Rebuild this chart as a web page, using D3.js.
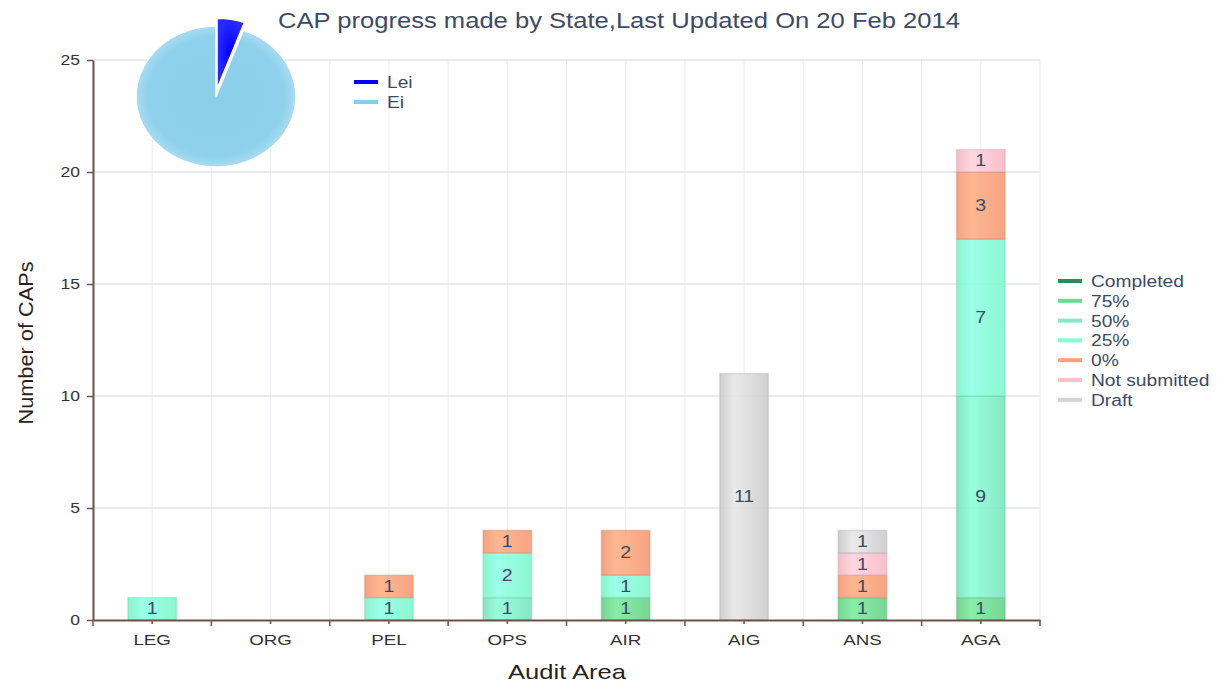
<!DOCTYPE html>
<html>
<head>
<meta charset="utf-8">
<script src="https://cdn.jsdelivr.net/npm/d3@7"></script>
<style>
  body { margin: 0; background: #fff; }
  svg { font-family: "Liberation Sans", Arial, sans-serif; }
</style>
</head>
<body>
<script>
// data
const areas = ["LEG", "ORG", "PEL", "OPS", "AIR", "AIG", "ANS", "AGA"];
const statuses = ["Completed", "75%", "50%", "25%", "0%", "Not submitted", "Draft"];
const completed    = [0, 0, 0, 0, 0, 0, 0, 0];
const pct75        = [0, 0, 0, 0, 1, 0, 1, 1];
const pct50        = [0, 0, 0, 1, 0, 0, 0, 9];
const pct25        = [1, 0, 1, 2, 1, 0, 0, 7];
const pct0         = [0, 0, 1, 1, 2, 0, 1, 3];
const notSubmitted = [0, 0, 0, 0, 0, 0, 1, 1];
const draft        = [0, 0, 0, 0, 0, 11, 1, 0];
const yTicks = [0, 5, 10, 15, 20, 25];

const pieLabels = ["Lei", "Ei"];
const pieValues = [1, 17];

const statusColors = ["#2e8b57", "#6fd98f", "#80ebc6", "#85ffd2", "#ffa07a", "#ffc0cb", "#d3d3d3"];
const pieColors = ["#0000ff", "#87ceeb"];

const width = 1217, height = 685;
const svg = d3.select("body").append("svg")
  .attr("width", width)
  .attr("height", height);

const mLeft = 93, mRight = 1040, mTop = 60, mBottom = 620;

// text in the picture is a bit wider than the plain font
function stretch(sel, k) {
  sel.each(function () {
    const len = this.getComputedTextLength();
    d3.select(this).attr("textLength", len * k).attr("lengthAdjust", "spacingAndGlyphs");
  });
}

const x = d3.scaleBand().domain(areas).range([mLeft, mRight]).padding(0);
const y = d3.scaleLinear().domain([0, 25]).range([mBottom, mTop]);

const rows = areas.map((a, i) => ({
  area: a,
  "Completed": completed[i],
  "75%": pct75[i],
  "50%": pct50[i],
  "25%": pct25[i],
  "0%": pct0[i],
  "Not submitted": notSubmitted[i],
  "Draft": draft[i]
}));
const stacked = d3.stack().keys(statuses)(rows);

// gradients
const defs = svg.append("defs");
statusColors.forEach((c, i) => {
  const g = defs.append("linearGradient").attr("id", "bg" + i)
    .attr("x1", "0%").attr("x2", "100%").attr("y1", "0%").attr("y2", "0%");
  g.append("stop").attr("offset", "0%").attr("stop-color", d3.color(c).darker(0.15));
  g.append("stop").attr("offset", "30%").attr("stop-color", d3.color(c).brighter(0.25));
  g.append("stop").attr("offset", "100%").attr("stop-color", d3.color(c).darker(0.1));
});
const pg = defs.append("radialGradient").attr("id", "pieEi")
  .attr("cx", "50%").attr("cy", "50%").attr("r", "50%");
pg.append("stop").attr("offset", "0%").attr("stop-color", "#8ccfe9");
pg.append("stop").attr("offset", "85%").attr("stop-color", "#8fd1ec");
pg.append("stop").attr("offset", "100%").attr("stop-color", "#a8dcf2");
const pb = defs.append("radialGradient").attr("id", "pieLei")
  .attr("cx", "50%").attr("cy", "50%").attr("r", "50%");
pb.append("stop").attr("offset", "0%").attr("stop-color", "#0000ff");
pb.append("stop").attr("offset", "100%").attr("stop-color", "#2a2aff");

// grid
const step = x.step();
const gridX = d3.range(0, areas.length * 2 + 1).map(k => mLeft + k * step / 2);
svg.append("g").selectAll("line").data(gridX).enter().append("line")
  .attr("x1", d => d).attr("x2", d => d)
  .attr("y1", mTop).attr("y2", mBottom)
  .attr("stroke", "#ececf0").attr("stroke-width", 1);
svg.append("g").selectAll("line").data(yTicks.slice(1)).enter().append("line")
  .attr("x1", mLeft).attr("x2", mRight)
  .attr("y1", d => y(d)).attr("y2", d => y(d))
  .attr("stroke", "#dde4ee").attr("stroke-width", 1.5);

// bars
const barW = x.bandwidth() * 0.41;
const layer = svg.append("g").selectAll("g").data(stacked).enter().append("g")
  .attr("fill", (d, i) => "url(#bg" + i + ")")
  .attr("stroke", (d, i) => d3.color(statusColors[i]).darker(0.6));
layer.selectAll("rect").data(d => d.filter(p => p[1] - p[0] > 0)).enter().append("rect")
  .attr("x", d => x(d.data.area) + x.bandwidth() / 2 - barW / 2)
  .attr("y", d => y(d[1]))
  .attr("width", barW)
  .attr("height", d => y(d[0]) - y(d[1]))
  .attr("fill-opacity", 0.9)
  .attr("stroke-opacity", 0.35)
  .attr("stroke-width", 1.5);

const barText = layer.selectAll("text").data(d => d.filter(p => p[1] - p[0] > 0)).enter().append("text")
  .attr("x", d => x(d.data.area) + x.bandwidth() / 2)
  .attr("y", d => y((d[0] + d[1]) / 2) + 5.5)
  .attr("text-anchor", "middle")
  .attr("fill", "#3d4a66")
  .attr("stroke", "none")
  .style("font-size", "16px")
  .text(d => d[1] - d[0]);
stretch(barText, 1.22);

// axes
const axisColor = "#6e5147";
const yAxis = svg.append("g")
  .attr("transform", `translate(${mLeft},0)`)
  .call(d3.axisLeft(y).tickValues(yTicks).tickSize(6).tickSizeOuter(0));
yAxis.selectAll("text").attr("fill", "#333").style("font-size", "14px").attr("dx", "-4");
stretch(yAxis.selectAll("text"), 1.25);

const xAxis = svg.append("g")
  .attr("transform", `translate(0,${mBottom})`)
  .call(d3.axisBottom(x).tickSize(4).tickSizeOuter(0));
xAxis.selectAll("text").attr("fill", "#333").style("font-size", "15px").attr("dy", "1.2em");
stretch(xAxis.selectAll("text"), 1.25);
xAxis.selectAll(".bound").data(d3.range(0, areas.length + 1)).enter().append("line")
  .attr("class", "bound")
  .attr("x1", k => mLeft + k * step).attr("x2", k => mLeft + k * step)
  .attr("y1", 0).attr("y2", 6);
[yAxis, xAxis].forEach(a => {
  a.selectAll("line").attr("stroke", axisColor).attr("stroke-width", 1.5);
  a.select(".domain").attr("stroke", axisColor).attr("stroke-width", 2);
});

svg.append("text")
  .attr("transform", `translate(33,${(mTop + mBottom) / 2 + 3}) rotate(-90)`)
  .attr("text-anchor", "middle")
  .attr("fill", "#2b1f1f")
  .style("font-size", "21px")
  .attr("textLength", 163).attr("lengthAdjust", "spacingAndGlyphs")
  .text("Number of CAPs");

svg.append("text")
  .attr("x", 567)
  .attr("y", 679)
  .attr("text-anchor", "middle")
  .attr("fill", "#2b1f1f")
  .style("font-size", "21px")
  .attr("textLength", 118).attr("lengthAdjust", "spacingAndGlyphs")
  .text("Audit Area");

// title
svg.append("text")
  .attr("x", 619)
  .attr("y", 28)
  .attr("text-anchor", "middle")
  .attr("fill", "#3d4a66")
  .style("font-size", "22px")
  .attr("textLength", 682).attr("lengthAdjust", "spacingAndGlyphs")
  .text("CAP progress made by State,Last Updated On 20 Feb 2014");

// status legend
const leg = svg.append("g").attr("transform", "translate(1058,281)");
statuses.forEach((s, i) => {
  const g = leg.append("g").attr("transform", `translate(0,${i * 19.8})`);
  g.append("line").attr("x1", 0).attr("x2", 24).attr("y1", 0).attr("y2", 0)
    .attr("stroke", statusColors[i]).attr("stroke-width", 4);
  g.append("text").attr("x", 33).attr("y", 6)
    .attr("fill", "#3d4a66").style("font-size", "16px").text(s);
});
stretch(leg.selectAll("text"), 1.2);

// pie
const pie = d3.pie().sort(null)(pieValues);
const arc = d3.arc().innerRadius(0).outerRadius(80);
const pieG = svg.append("g").attr("transform", "translate(216,96.5) scale(1,0.88)");
pieG.selectAll("path").data(pie).enter().append("path")
  .attr("transform", (d, i) => {
    if (i !== 0) return null;
    const a = (d.startAngle + d.endAngle) / 2;
    return `translate(${Math.sin(a) * 6},${-Math.cos(a) * 9})`;
  })
  .attr("d", arc)
  .attr("fill", (d, i) => i === 0 ? "url(#pieLei)" : "url(#pieEi)")
  .attr("stroke", "#fff")
  .attr("stroke-width", 1.5);

const pleg = svg.append("g").attr("transform", "translate(354,82)");
pieLabels.forEach((l, i) => {
  const g = pleg.append("g").attr("transform", `translate(0,${i * 20})`);
  g.append("line").attr("x1", 0).attr("x2", 24).attr("y1", 0).attr("y2", 0)
    .attr("stroke", pieColors[i]).attr("stroke-width", 4);
  g.append("text").attr("x", 33).attr("y", 6)
    .attr("fill", "#3d4a66").style("font-size", "16px").text(l);
});
stretch(pleg.selectAll("text"), 1.2);
</script>
</body>
</html>
